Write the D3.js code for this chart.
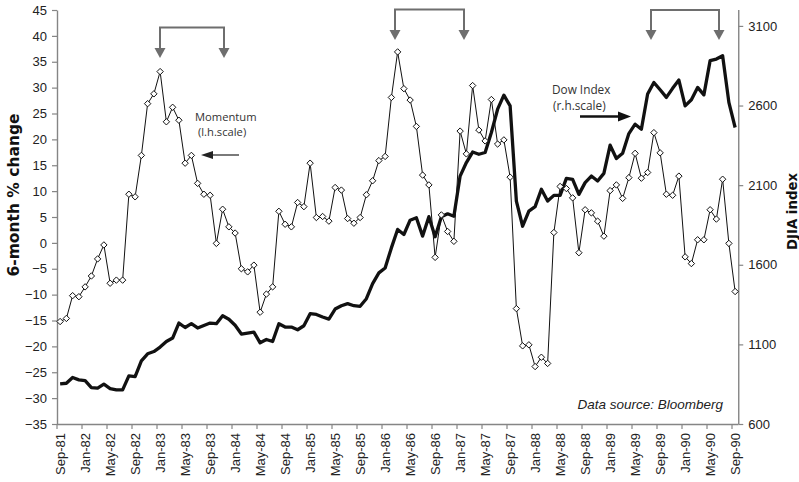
<!DOCTYPE html>
<html><head><meta charset="utf-8">
<script src="https://cdn.jsdelivr.net/npm/d3@7"></script>
<style>body{margin:0;background:#fff}svg{display:block}</style></head>
<body>
<svg id="c" width="799" height="482"></svg>
<script>
const categories = [
"Sep-81","Oct-81","Nov-81","Dec-81",
"Jan-82","Feb-82","Mar-82","Apr-82","May-82","Jun-82","Jul-82","Aug-82","Sep-82","Oct-82","Nov-82","Dec-82",
"Jan-83","Feb-83","Mar-83","Apr-83","May-83","Jun-83","Jul-83","Aug-83","Sep-83","Oct-83","Nov-83","Dec-83",
"Jan-84","Feb-84","Mar-84","Apr-84","May-84","Jun-84","Jul-84","Aug-84","Sep-84","Oct-84","Nov-84","Dec-84",
"Jan-85","Feb-85","Mar-85","Apr-85","May-85","Jun-85","Jul-85","Aug-85","Sep-85","Oct-85","Nov-85","Dec-85",
"Jan-86","Feb-86","Mar-86","Apr-86","May-86","Jun-86","Jul-86","Aug-86","Sep-86","Oct-86","Nov-86","Dec-86",
"Jan-87","Feb-87","Mar-87","Apr-87","May-87","Jun-87","Jul-87","Aug-87","Sep-87","Oct-87","Nov-87","Dec-87",
"Jan-88","Feb-88","Mar-88","Apr-88","May-88","Jun-88","Jul-88","Aug-88","Sep-88","Oct-88","Nov-88","Dec-88",
"Jan-89","Feb-89","Mar-89","Apr-89","May-89","Jun-89","Jul-89","Aug-89","Sep-89","Oct-89","Nov-89","Dec-89",
"Jan-90","Feb-90","Mar-90","Apr-90","May-90","Jun-90","Jul-90","Aug-90","Sep-90"];

const momentum = [
-15.2,-14.6,-10.2,-10.4,-8.5,-6.4,-3.1,-0.4,-7.8,-7.2,-7.2,
9.4,8.9,16.9,26.9,28.8,33.1,23.4,26.2,23.7,15.4,
16.9,11.5,9.4,9.2,-0.1,6.5,3.1,1.9,-5.0,-5.6,
-4.3,-13.4,-9.9,-8.5,6.1,3.6,3.1,7.8,7.0,15.4,
4.9,5.1,4.2,10.7,10.2,4.7,3.8,4.9,9.3,12.0,
15.9,16.7,28.1,36.9,29.8,27.6,22.5,13.1,11.2,-2.8,
5.4,2.2,0.3,21.6,17.2,30.4,21.8,19.7,27.7,19.1,
19.9,12.7,-12.7,-19.9,-19.7,-23.9,-22.1,-23.3,2.0,10.9,
10.5,8.7,-1.9,6.4,5.8,4.2,1.3,10.1,11.2,8.6,
12.6,17.3,12.5,13.6,21.3,17.4,9.4,9.2,12.9,-2.7,
-4.0,0.6,0.6,6.4,4.6,12.3,-0.1,-9.4];

const dow = [
852,856,892,877,873,829,825,850,822,814,814,
902,898,997,1041,1055,1083,1118,1140,1234,1206,
1230,1203,1219,1234,1230,1280,1258,1220,1165,1171,
1177,1110,1131,1118,1230,1209,1209,1192,1217,1293,
1288,1272,1259,1322,1343,1356,1343,1339,1387,1482,
1549,1580,1706,1822,1790,1880,1895,1780,1902,1776,
1902,1920,1905,2157,2242,2308,2294,2305,2431,2577,
2665,2598,2000,1842,1937,1965,2074,2000,2036,2036,
2143,2137,2042,2116,2157,2126,2174,2351,2267,2300,
2424,2483,2451,2672,2745,2699,2651,2708,2760,2598,
2636,2714,2667,2882,2892,2913,2620,2462];

const leftTicks = [-35,-30,-25,-20,-15,-10,-5,0,5,10,15,20,25,30,35,40,45];
const rightTicks = [600,1100,1600,2100,2600,3100];
const leftTitle = "6-month % change";
const rightTitle = "DJIA index";
const sourceText = "Data source: Bloomberg";

const svg = d3.select("#c");
svg.append("rect").attr("width",799).attr("height",482).attr("fill","#fff");

const L = 57, R = 738.25, T = 10, B = 424;
const x = d3.scaleBand().domain(categories).range([L, R]).padding(0);
const bw = x.bandwidth();
const cx = c => x(c) + bw/2;
const yL = d3.scaleLinear().domain([-35, 45]).range([B, T]);
const yR = d3.scaleLinear().domain([600, 3200]).range([B, T]);

const axisColor = "#858585";
const textColor = "#222";
const tickFont = "'Liberation Sans', Arial, sans-serif";
const titleFont = "'DejaVu Sans', sans-serif";

// left axis
const gL = svg.append("g").attr("transform", `translate(${L},0)`)
  .call(d3.axisLeft(yL).tickValues(leftTicks).tickSize(5).tickSizeOuter(0).tickPadding(5).tickFormat(d3.format("d")));
// right axis
const gR = svg.append("g").attr("transform", `translate(${R},0)`)
  .call(d3.axisRight(yR).tickValues(rightTicks).tickSize(5).tickSizeOuter(0).tickPadding(5).tickFormat(d3.format("d")));
[gL, gR].forEach(g => {
  g.select(".domain").attr("stroke", axisColor).attr("stroke-width", 1.4);
  g.selectAll(".tick line").attr("stroke", axisColor).attr("stroke-width", 1.2);
  g.selectAll(".tick text").attr("fill", textColor).style("font-family", tickFont).style("font-size", "13px");
});
gR.select(".domain").attr("d", `M0.5,${T}V${B}`);

// bottom axis (ticks at category boundaries every 4 months, labels centered on categories)
const gB = svg.append("g");
gB.append("line").attr("x1", L).attr("x2", R).attr("y1", B + 0.5).attr("y2", B + 0.5)
  .attr("stroke", axisColor).attr("stroke-width", 1.4);
const labelCats = categories.filter((c, i) => i % 4 === 0);
gB.selectAll("line.tk").data(labelCats).join("line").attr("class", "tk")
  .attr("x1", c => x(c)).attr("x2", c => x(c)).attr("y1", B).attr("y2", B + 5)
  .attr("stroke", axisColor).attr("stroke-width", 1.2);
gB.selectAll("text").data(labelCats).join("text")
  .attr("transform", c => `translate(${cx(c) + 4.5},${B + 9}) rotate(-90)`)
  .attr("text-anchor", "end")
  .attr("fill", textColor).style("font-family", tickFont).style("font-size", "13px")
  .text(c => c);

// axis titles
svg.append("text").attr("transform", `translate(18.5,195) rotate(-90)`)
  .attr("text-anchor", "middle").attr("fill", "#111")
  .style("font-family", titleFont).style("font-weight", "bold").style("font-size", "15.5px")
  .text(leftTitle);
svg.append("text").attr("transform", `translate(796.5,211.5) rotate(-90)`)
  .attr("text-anchor", "middle").attr("fill", "#111")
  .style("font-family", titleFont).style("font-weight", "bold").style("font-size", "13.3px")
  .text(rightTitle);

// Dow line
svg.append("path").datum(dow)
  .attr("fill", "none").attr("stroke", "#111").attr("stroke-width", 3.3).attr("stroke-linejoin", "round")
  .attr("d", d3.line().x((d, i) => cx(categories[i])).y(d => yR(d)));

// Momentum line + diamond markers
svg.append("path").datum(momentum)
  .attr("fill", "none").attr("stroke", "#111").attr("stroke-width", 1)
  .attr("d", d3.line().x((d, i) => cx(categories[i])).y(d => yL(d)));
svg.append("g").selectAll("path").data(momentum).join("path")
  .attr("transform", (d, i) => `translate(${cx(categories[i])},${yL(d)})`)
  .attr("d", "M0,-3.2L3.2,0L0,3.2L-3.2,0Z")
  .attr("fill", "#fff").attr("stroke", "#111").attr("stroke-width", 1);

// bracket arrows
const gray = "#6e6e6e";
function bracket(x1, x2, yTop, yTip) {
  const g = svg.append("g");
  g.append("path").attr("d", `M${x1},${yTip - 9}V${yTop}H${x2}V${yTip - 9}`)
    .attr("fill", "none").attr("stroke", gray).attr("stroke-width", 2);
  [x1, x2].forEach(xx => {
    g.append("path").attr("d", `M${xx - 5.5},${yTip - 10}L${xx + 5.5},${yTip - 10}L${xx},${yTip}Z`).attr("fill", gray);
  });
}
bracket(160, 224, 27.5, 58);
bracket(395, 464, 9.5, 40);
bracket(651, 719, 10, 40);

// labels + pointer arrows
const annFont = "'Open Sans', sans-serif";
svg.append("text").attr("x", 195).attr("y", 120.5).attr("fill", "#333")
  .style("font-family", annFont).style("font-size", "11.2px").text("Momentum");
svg.append("text").attr("x", 198).attr("y", 136).attr("fill", "#333")
  .style("font-family", annFont).style("font-size", "11.2px").text("(l.h.scale)");
svg.append("line").attr("x1", 239).attr("x2", 210).attr("y1", 155).attr("y2", 155)
  .attr("stroke", "#222").attr("stroke-width", 1.2);
svg.append("path").attr("d", "M201,155L213,151L213,159Z").attr("fill", "#222");

svg.append("text").attr("x", 552).attr("y", 93.5).attr("fill", "#333")
  .style("font-family", annFont).style("font-size", "11.8px").text("Dow Index");
svg.append("text").attr("x", 553).attr("y", 109.5).attr("fill", "#333")
  .style("font-family", annFont).style("font-size", "11.8px").text("(r.h.scale)");
svg.append("line").attr("x1", 580).attr("x2", 620).attr("y1", 116.5).attr("y2", 116.5)
  .attr("stroke", "#111").attr("stroke-width", 2.4);
svg.append("path").attr("d", "M631,116.5L618,111.5L618,121.5Z").attr("fill", "#111");

svg.append("text").attr("x", 723).attr("y", 409).attr("text-anchor", "end").attr("fill", "#222")
  .style("font-family", tickFont).style("font-style", "italic").style("font-size", "13.5px")
  .text(sourceText);
</script>
</body></html>
